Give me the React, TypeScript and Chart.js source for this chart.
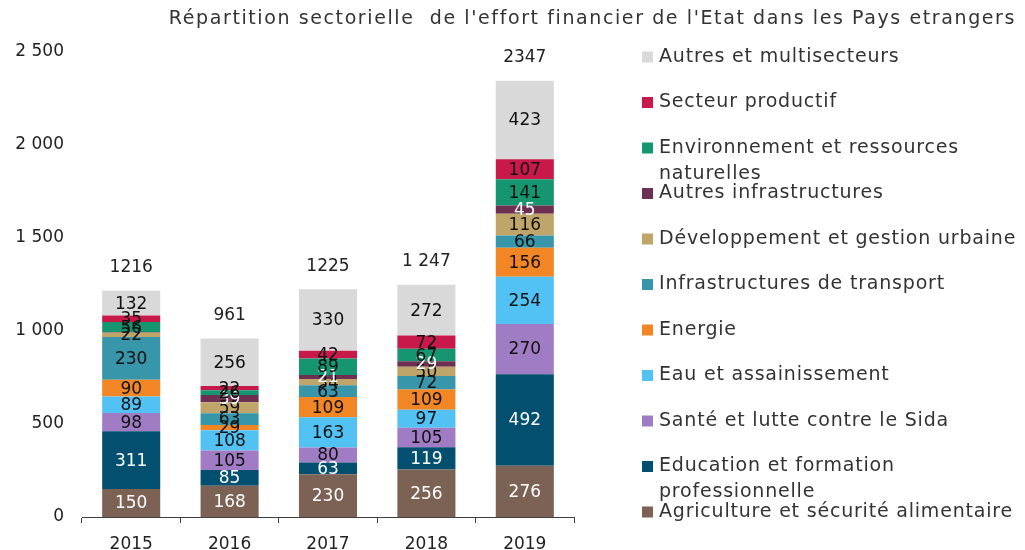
import React, { useEffect, useRef } from "react";
import { Chart, registerables } from "chart.js";

Chart.register(...registerables);

const years = ["2015", "2016", "2017", "2018", "2019"];
const totalLabels = ["1216", "961", "1225", "1 247", "2347"];

const agriculture = [150, 168, 230, 256, 276];
const education = [311, 85, 63, 119, 492];
const sante = [98, 105, 80, 105, 270];
const eau = [89, 108, 163, 97, 254];
const energie = [90, 29, 109, 109, 156];
const transport = [230, 63, 63, 72, 66];
const urbain = [22, 59, 34, 50, 116];
const autresInfra = [3, 39, 21, 29, 45];
const environnement = [56, 26, 89, 67, 141];
const productif = [35, 22, 42, 72, 107];
const autres = [132, 256, 330, 272, 423];

const yTicks = [0, 500, 1000, 1500, 2000, 2500];

const FONT = "'DejaVu Sans'";

const series = [
  { label: "Agriculture et sécurité alimentaire", data: agriculture, color: "#7B6254", text: "#ffffff" },
  { label: "Education et formation\nprofessionnelle", data: education, color: "#034F70", text: "#ffffff" },
  { label: "Santé et lutte contre le Sida", data: sante, color: "#A07CC5", text: "#111111" },
  { label: "Eau et assainissement", data: eau, color: "#52C2F5", text: "#111111" },
  { label: "Energie", data: energie, color: "#F28524", text: "#111111" },
  { label: "Infrastructures de transport", data: transport, color: "#3796AA", text: "#111111" },
  { label: "Développement et gestion urbaine", data: urbain, color: "#C0A56B", text: "#111111" },
  { label: "Autres infrastructures", data: autresInfra, color: "#6E3050", text: "#ffffff" },
  { label: "Environnement et ressources\nnaturelles", data: environnement, color: "#159570", text: "#111111" },
  { label: "Secteur productif", data: productif, color: "#C9184A", text: "#111111" },
  { label: "Autres et multisecteurs", data: autres, color: "#D9D9D9", text: "#111111" },
];

const fmt = (v: number) =>
  v >= 1000 ? `${Math.floor(v / 1000)} ${String(v % 1000).padStart(3, "0")}` : String(v);

const overlayPlugin = {
  id: "overlay",
  afterDatasetsDraw(chart: any) {
    const ctx = chart.ctx;
    ctx.save();
    // segment labels
    ctx.font = `17px ${FONT}`;
    ctx.textAlign = "center";
    ctx.textBaseline = "middle";
    chart.data.datasets.forEach((ds: any, di: number) => {
      const meta = chart.getDatasetMeta(di);
      meta.data.forEach((el: any, i: number) => {
        const v = ds.data[i];
        if (v < 5) return;
        ctx.fillStyle = series[di].text;
        ctx.fillText(String(v), el.x, (el.y + el.base) / 2 + 1);
      });
    });
    // totals
    const lastMeta = chart.getDatasetMeta(chart.data.datasets.length - 1);
    ctx.fillStyle = "#222222";
    lastMeta.data.forEach((el: any, i: number) => {
      ctx.fillText(totalLabels[i], el.x, el.y - 23);
    });
    // title
    ctx.font = `19px ${FONT}`;
    ctx.fillStyle = "#333333";
    ctx.textAlign = "right";
    (ctx as any).letterSpacing = "1.6px";
    ctx.fillText(
      "Répartition sectorielle  de l'effort financier de l'Etat dans les Pays etrangers",
      1016,
      19
    );
    // legend
    ctx.font = `19px ${FONT}`;
    (ctx as any).letterSpacing = "0.8px";
    ctx.textAlign = "left";
    const startY = 57;
    const step = 45.5;
    const rev = [...series].reverse();
    rev.forEach((s, k) => {
      const cy = startY + k * step;
      ctx.fillStyle = s.color;
      ctx.fillRect(642, cy - 5.5, 11, 11);
      ctx.fillStyle = "#333333";
      s.label.split("\n").forEach((line, li) => {
        ctx.fillText(line, 659, cy + li * 26);
      });
    });
    (ctx as any).letterSpacing = "0px";
    ctx.restore();
  },
};

export default function App() {
  const ref = useRef<HTMLCanvasElement | null>(null);
  useEffect(() => {
    if (!ref.current) return;
    const chart = new Chart(ref.current, {
      type: "bar",
      data: {
        labels: years,
        datasets: series.map((s) => ({
          label: s.label.replace("\n", " "),
          data: s.data,
          backgroundColor: s.color,
          borderWidth: 0,
          barPercentage: 0.59,
          categoryPercentage: 1,
        })),
      },
      options: {
        animation: false,
        responsive: false,
        maintainAspectRatio: false,
        layout: { padding: { top: 52, right: 451, left: 0, bottom: 0 } },
        plugins: { legend: { display: false }, tooltip: { enabled: false }, title: { display: false } },
        scales: {
          x: {
            stacked: true,
            grid: { display: true, offset: true, drawOnChartArea: false, drawTicks: true, tickLength: 6, color: "#404040" },
            border: { display: true, color: "#404040", width: 1 },
            ticks: { font: { family: FONT, size: 17 }, color: "#222222", padding: 11 },
            afterFit: (scale: any) => {
              scale.height = 33;
            },
          },
          y: {
            stacked: true,
            min: 0,
            max: 2500,
            grid: { display: false, drawTicks: false },
            border: { display: false },
            afterBuildTicks: (scale: any) => {
              scale.ticks = yTicks.map((v) => ({ value: v }));
            },
            ticks: {
              font: { family: FONT, size: 17 },
              color: "#222222",
              padding: 18,
              callback: (v: any) => fmt(Number(v)),
            },
            afterFit: (scale: any) => {
              scale.width = 82;
            },
          },
        },
      },
      plugins: [overlayPlugin],
    });
    return () => chart.destroy();
  }, []);
  return (
    <div style={{ position: "absolute", left: 0, top: 0, width: 1025, height: 550, background: "#fff" }}>
      <canvas ref={ref} width={1025} height={550} />
    </div>
  );
}
